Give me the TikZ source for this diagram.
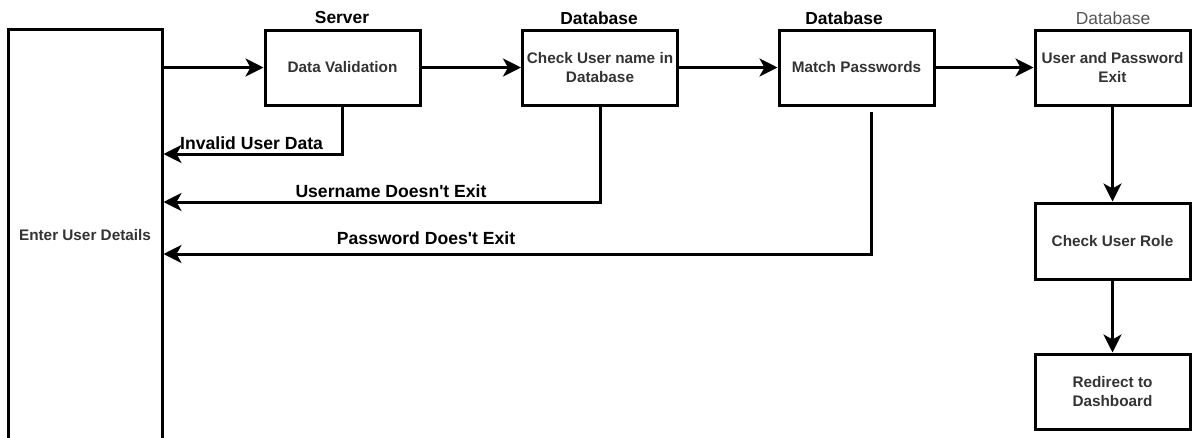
\documentclass[tikz,border=0pt]{standalone}
\usepackage{fontspec}
\setmainfont{Liberation Sans}
\usetikzlibrary{arrows.meta}
\definecolor{boxtext}{HTML}{333333}
\definecolor{softgray}{HTML}{555555}
\begin{document}
\begin{tikzpicture}[x=1pt,y=-1pt,
  box/.style={draw=black,line width=3pt,minimum width=155pt,minimum height=75pt,
    inner sep=2pt,align=center,text=boxtext,font=\fontsize{15.3}{19}\selectfont\bfseries},
  head/.style={font=\fontsize{17.4}{20}\selectfont\bfseries,inner sep=0pt},
  lbl/.style={font=\fontsize{17.6}{20}\selectfont\bfseries,inner sep=0pt},
  flow/.style={line width=3pt,-{Stealth[length=18pt,width=18pt,inset=5pt]}}]
\useasboundingbox (0,0) rectangle (1192,437);

% process boxes
\node[box,minimum width=154pt,minimum height=412pt] (user) at (85,235) {Enter User Details};
\node[box] (valid) at (342.5,67.5) {Data Validation};
\node[box] (check) at (600,67.5) {Check User name in\\Database};
\node[box] (match) at (856.5,67.5) {Match Passwords};
\node[box] (exist) at (1112.5,67.5) {User and Password\\Exit};
\node[box,minimum height=76pt] (role) at (1112.5,241) {Check User Role};
\node[box] (dash) at (1112.5,391.5) {Redirect to\\Dashboard};

% tier headings
\node[head] (hserver) at (342,18) {Server};
\node[head] (hdb1) at (599,18) {Database};
\node[head] (hdb2) at (844,18) {Database};
\node[head,font=\fontsize{17.4}{20}\selectfont,text=softgray] (hdb3) at (1113,18) {Database};

% main flow
\draw[flow] (user.east |- valid.west) -- (valid.west);
\draw[flow] (valid.east) -- (check.west);
\draw[flow] (check.east) -- (match.west);
\draw[flow] (match.east) -- (exist.west);
\draw[flow] (exist.south) -- (role.north);
\draw[flow] (role.south) -- (dash.north);

% failure returns
\coordinate (r1) at (342.5,154);
\coordinate (r2) at (600,202);
\coordinate (r3) at (871,254);
\coordinate (p3) at (871,112);
\draw[flow] (valid.south) |- (user.east |- r1);
\draw[flow] (check.south) |- (user.east |- r2);
\draw[flow] (p3) |- (user.east |- r3);

\node[lbl,anchor=west] (l1) at (180,143) {Invalid User Data};
\node[lbl] (l2) at (391,191) {Username Doesn\textquotesingle t Exit};
\node[lbl] (l3) at (426,238) {Password Does\textquotesingle t Exit};
\end{tikzpicture}
\end{document}
